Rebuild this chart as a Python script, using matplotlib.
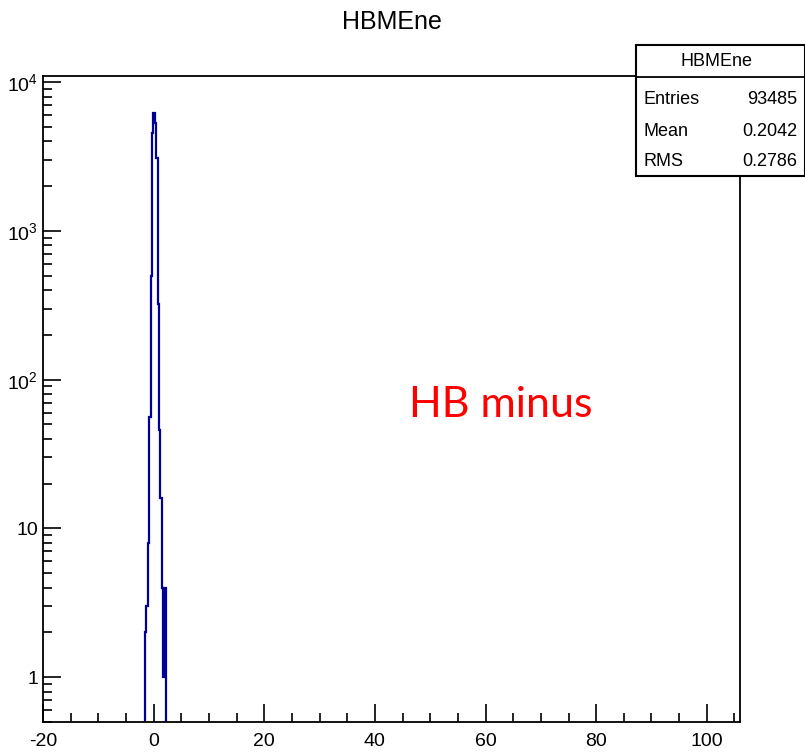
import numpy as np
import matplotlib
matplotlib.use("Agg")
import matplotlib.pyplot as plt
from matplotlib.ticker import FixedLocator, FixedFormatter, MultipleLocator, NullFormatter

plt.rcParams["font.family"] = ["Liberation Sans Narrow", "Liberation Sans", "DejaVu Sans"]
plt.rcParams["mathtext.default"] = "regular"
plt.rcParams["axes.unicode_minus"] = False

# HBMEne bin edges and counts (bins of 0.25)
bin_edges = np.arange(-1.8, 2.7 + 0.001, 0.25)
bin_counts = [0, 2, 3, 8, 56, 500, 4550, 6200, 5300, 3100, 325, 46, 16, 4, 1, 4, 0, 0]

stats_title = "HBMEne"
stats_names = ["Entries", "Mean", "RMS"]
stats_values = ["93485", "0.2042", "0.2786"]

y_ticks = [1, 10, 100, 1000, 10000]
y_tick_labels = ["1", "10", "$10^{2}$", "$10^{3}$", "$10^{4}$"]

fig = plt.figure(figsize=(8.05, 7.56), dpi=100)
ax = fig.add_axes([43 / 805, 34 / 756, 697 / 805, 646 / 756])

ax.stairs(bin_counts, bin_edges, color="#000099", linewidth=1.6, baseline=1e-3)

ax.set_yscale("log")
ax.set_xlim(-20, 106)
ax.set_ylim(0.5, 1.1e4)

ax.xaxis.set_major_locator(MultipleLocator(20))
ax.xaxis.set_minor_locator(MultipleLocator(5))
ax.yaxis.set_major_locator(FixedLocator(y_ticks))
ax.yaxis.set_major_formatter(FixedFormatter(y_tick_labels))
ax.yaxis.set_minor_formatter(NullFormatter())

ax.tick_params(which="both", direction="in", top=False, right=False,
               width=1.2, labelsize=14)
ax.tick_params(which="major", length=13)
ax.tick_params(which="minor", length=6.5)
ax.tick_params(axis="x", pad=8)
for spine in ax.spines.values():
    spine.set_linewidth(1.3)

fig.text(392 / 805, 1 - 22 / 756, "HBMEne", ha="center", va="center", fontsize=18)

ax.text(0.525, 0.49, "HB minus", transform=ax.transAxes, color="red",
        fontsize=31, family=["Lato", "DejaVu Sans"], ha="left", va="center")

# stats box in the top right corner
bx0, by0, bx1, by1 = 636 / 805, 1 - 176 / 756, 1.0, 1 - 45 / 756
fig.patches.append(plt.Rectangle((bx0, by0), bx1 - bx0, by1 - by0, transform=fig.transFigure,
                                 facecolor="white", edgecolor="black", linewidth=1.5, zorder=5))
fig.add_artist(plt.Line2D([bx0, bx1], [1 - 77 / 756] * 2, color="black", linewidth=1.3,
                          transform=fig.transFigure, zorder=6))
fig.text((bx0 + bx1) / 2 - 0.005, 1 - 62 / 756, stats_title, ha="center", va="center",
         fontsize=13, zorder=7)
for i, (name, value) in enumerate(zip(stats_names, stats_values)):
    yy = 1 - (100 + 31 * i) / 756
    fig.text(643 / 805, yy, name, ha="left", va="center", fontsize=13, zorder=7)
    fig.text(797 / 805, yy, value, ha="right", va="center", fontsize=13, zorder=7)

fig.savefig("out.png", dpi=100)
